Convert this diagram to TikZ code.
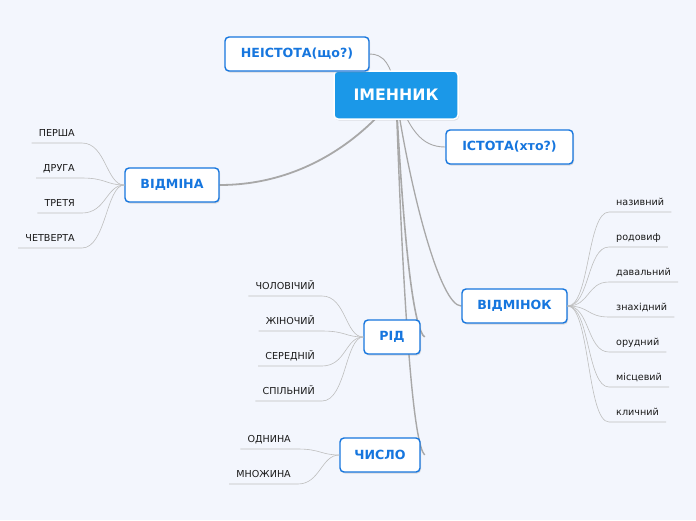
\documentclass[tikz,border=0pt]{standalone}
\usepackage{fontspec}
\setmainfont{DejaVu Sans}
\usepackage{xcolor}
\usetikzlibrary{positioning,shadows,backgrounds}
\definecolor{bgcol}{RGB}{243,246,253}
\definecolor{topicblue}{RGB}{22,118,222}
\definecolor{centreblue}{RGB}{27,152,232}
\definecolor{linegrey}{RGB}{168,168,168}
\definecolor{leafgrey}{RGB}{190,190,190}
\definecolor{leaftext}{RGB}{25,25,25}
\pgfdeclarelayer{bg}
\pgfdeclarelayer{links}
\pgfsetlayers{bg,links,main}

\begin{document}
\begin{tikzpicture}[x=1pt,y=-1pt]
 \tikzset{centre/.style={rectangle, rounded corners=4pt, fill=centreblue, draw=white, line width=1.5pt, text=white, font=\fontsize{15.8}{18}\selectfont\bfseries, minimum width=124pt, minimum height=48pt, drop shadow={shadow xshift=1pt, shadow yshift=-1.5pt, opacity=0.2}},
  topic/.style={rectangle, rounded corners=4pt, fill=white, draw=topicblue, line width=1.4pt, text=topicblue, font=\fontsize{12.6}{14}\selectfont\bfseries, minimum height=34pt, drop shadow={shadow xshift=1pt, shadow yshift=-1.5pt, opacity=0.25}},
  leaf/.style={inner xsep=7pt, inner ysep=0pt, text height=8pt, text depth=6pt, text=leaftext, font=\fontsize{9.6}{11}\selectfont},
  link/.style={draw=linegrey, line width=1.3pt},
  twig/.style={draw=leafgrey, line width=0.6pt}};
  \useasboundingbox (0,0) rectangle (696,520);
  \begin{pgfonlayer}{bg}
   \fill[bgcol] (0,0) rectangle (696,520);
  \end{pgfonlayer}
  % main topics
  \node[centre] (noun) at (396,95) {ІМЕННИК};
  \node[topic, minimum width=144pt] (inanim) at (297,54) {НЕІСТОТА(що?)};
  \node[topic, minimum width=127pt] (anim) at (509.5,147) {ІСТОТА(хто?)};
  \node[topic, minimum width=94pt] (decl) at (172,185) {ВІДМІНА};
  \node[topic, minimum width=105pt] (case) at (514.5,306) {ВІДМІНОК};
  \node[topic, minimum width=56pt] (gender) at (392,337) {РІД};
  \node[topic, minimum width=80pt] (number) at (380,455) {ЧИСЛО};
  \coordinate (gendertip) at ([xshift=4pt]gender.east);
  \coordinate (numbertip) at ([xshift=4pt]number.east);
  \begin{pgfonlayer}{links}
   \draw[link, line width=0.9pt] (noun.center) .. controls (392,62) and (382,54) .. (inanim.east);
   \draw[link, line width=0.9pt] (noun.center) .. controls (410,128) and (420,147) .. (anim.west);
   \draw[link, line width=1.8pt] (noun.center) .. controls (370,130) and (310,185) .. (decl.east);
   \draw[link] (noun.center) .. controls (410,190) and (440,306) .. (case.west);
   \draw[link, line width=1.6pt] (noun.center) .. controls (404,250) and (414,330) .. (gendertip);
   \draw[link, line width=1.4pt] (noun.center) .. controls (404,330) and (414,445) .. (numbertip);
  \end{pgfonlayer}
  % ВІДМІНА
  \node[leaf, anchor=south east] (decl1) at (82,143) {ПЕРША};
  \node[leaf, anchor=south east] (decl2) at (82,178) {ДРУГА};
  \node[leaf, anchor=south east] (decl3) at (82,213) {ТРЕТЯ};
  \node[leaf, anchor=south east] (decl4) at (82,248) {ЧЕТВЕРТА};
  \draw[twig] (decl1.south west) -- (decl1.south east) .. controls +(24,0) and +(-18,0) .. (decl.west);
  \draw[twig] (decl2.south west) -- (decl2.south east) .. controls +(24,0) and +(-18,0) .. (decl.west);
  \draw[twig] (decl3.south west) -- (decl3.south east) .. controls +(24,0) and +(-18,0) .. (decl.west);
  \draw[twig] (decl4.south west) -- (decl4.south east) .. controls +(24,0) and +(-18,0) .. (decl.west);
  % ВІДМІНОК
  \node[leaf, anchor=south west] (case1) at (609,212) {називний};
  \node[leaf, anchor=south west] (case2) at (609,247) {родовиф};
  \node[leaf, anchor=south west] (case3) at (609,282) {давальний};
  \node[leaf, anchor=south west] (case4) at (609,317) {знахідний};
  \node[leaf, anchor=south west] (case5) at (609,352) {орудний};
  \node[leaf, anchor=south west] (case6) at (609,387) {місцевий};
  \node[leaf, anchor=south west] (case7) at (609,422) {кличний};
  \draw[twig] (case.east) .. controls +(22,0) and +(-22,0) .. (case1.south west) -- (case1.south east);
  \draw[twig] (case.east) .. controls +(22,0) and +(-22,0) .. (case2.south west) -- (case2.south east);
  \draw[twig] (case.east) .. controls +(22,0) and +(-22,0) .. (case3.south west) -- (case3.south east);
  \draw[twig] (case.east) .. controls +(22,0) and +(-22,0) .. (case4.south west) -- (case4.south east);
  \draw[twig] (case.east) .. controls +(22,0) and +(-22,0) .. (case5.south west) -- (case5.south east);
  \draw[twig] (case.east) .. controls +(22,0) and +(-22,0) .. (case6.south west) -- (case6.south east);
  \draw[twig] (case.east) .. controls +(22,0) and +(-22,0) .. (case7.south west) -- (case7.south east);
  % РІД
  \node[leaf, anchor=south east] (gender1) at (322,296) {ЧОЛОВІЧИЙ};
  \node[leaf, anchor=south east] (gender2) at (322,331) {ЖІНОЧИЙ};
  \node[leaf, anchor=south east] (gender3) at (322,366) {СЕРЕДНІЙ};
  \node[leaf, anchor=south east] (gender4) at (322,401) {СПІЛЬНИЙ};
  \draw[twig] (gender1.south west) -- (gender1.south east) .. controls +(24,0) and +(-18,0) .. (gender.west);
  \draw[twig] (gender2.south west) -- (gender2.south east) .. controls +(24,0) and +(-18,0) .. (gender.west);
  \draw[twig] (gender3.south west) -- (gender3.south east) .. controls +(24,0) and +(-18,0) .. (gender.west);
  \draw[twig] (gender4.south west) -- (gender4.south east) .. controls +(24,0) and +(-18,0) .. (gender.west);
  % ЧИСЛО
  \node[leaf, anchor=south east] (number1) at (298,449) {ОДНИНА};
  \node[leaf, anchor=south east] (number2) at (298,484) {МНОЖИНА};
  \draw[twig] (number1.south west) -- (number1.south east) .. controls +(22,0) and +(-18,0) .. (number.west);
  \draw[twig] (number2.south west) -- (number2.south east) .. controls +(22,0) and +(-18,0) .. (number.west);
\end{tikzpicture}
\end{document}
